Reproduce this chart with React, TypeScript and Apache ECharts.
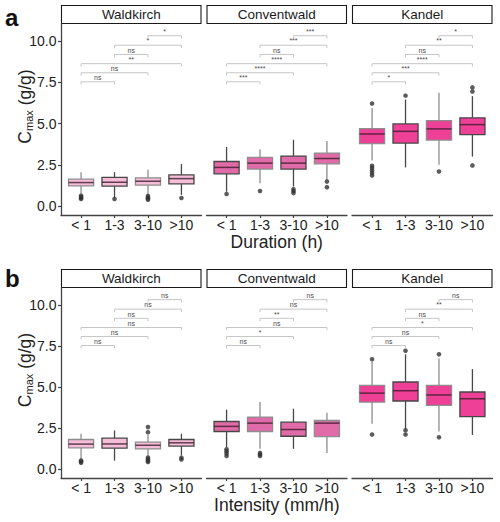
import React, { useEffect, useRef } from 'react';
import * as echarts from 'echarts';

// ---------------- DATA ----------------
const categories = ['< 1', '1-3', '3-10', '>10'];
const sites = ['Waldkirch', 'Conventwald', 'Kandel'];
const yTicks = [0, 2.5, 5, 7.5, 10];
const xTitles = ['Duration (h)', 'Intensity (mm/h)'];
const panelLetters = ['a', 'b'];

// box stats per category: [lower whisker, Q1, median, Q3, upper whisker]
const durationWaldkirch = [
  [0.72, 1.22, 1.42, 1.63, 2.05],
  [0.5, 1.2, 1.44, 1.73, 2.05],
  [0.67, 1.26, 1.5, 1.71, 2.2],
  [0.67, 1.34, 1.66, 1.89, 2.54],
];
const durationConventwald = [
  [0.87, 1.95, 2.34, 2.7, 3.58],
  [1.38, 2.24, 2.6, 2.95, 3.45],
  [1.18, 2.24, 2.6, 3.03, 4.02],
  [1.58, 2.56, 2.88, 3.21, 3.94],
];
const durationKandel = [
  [2.76, 3.78, 4.37, 4.7, 5.95],
  [2.34, 3.82, 4.53, 4.98, 6.46],
  [2.5, 4.0, 4.68, 5.18, 6.87],
  [3.0, 4.33, 4.94, 5.35, 6.67],
];
const intensityWaldkirch = [
  [0.61, 1.29, 1.52, 1.8, 2.15],
  [0.51, 1.27, 1.53, 1.88, 2.35],
  [0.82, 1.23, 1.45, 1.64, 2.08],
  [0.82, 1.4, 1.6, 1.8, 2.15],
];
const intensityConventwald = [
  [1.33, 2.29, 2.6, 2.9, 3.62],
  [1.23, 2.29, 2.8, 3.17, 4.09],
  [1.23, 2.0, 2.41, 2.86, 3.68],
  [0.98, 1.98, 2.8, 2.96, 3.44],
];
const intensityKandel = [
  [2.76, 4.08, 4.63, 5.1, 6.54],
  [2.45, 4.15, 4.78, 5.31, 7.0],
  [2.29, 3.88, 4.52, 5.1, 6.75],
  [2.08, 3.2, 4.29, 4.7, 6.1],
];

// outliers: [category index, value]
const durationWaldkirchOut = [[0, 0.62], [0, 0.55], [0, 0.48], [0, 0.42], [1, 0.42], [2, 0.6], [2, 0.52], [2, 0.45], [2, 0.38], [3, 0.48]];
const durationConventwaldOut = [[0, 0.73], [1, 0.91], [2, 1.02], [2, 0.9], [2, 0.78], [3, 1.48], [3, 1.14]];
const durationKandelOut = [[0, 6.22], [0, 2.44], [0, 2.3], [0, 2.15], [0, 2.0], [0, 1.85], [1, 6.7], [2, 2.09], [3, 7.2], [3, 6.95], [3, 2.46]];
const intensityWaldkirchOut = [[0, 0.52], [0, 0.45], [0, 0.38], [2, 2.56], [2, 2.25], [2, 0.7], [2, 0.6], [2, 0.5], [2, 0.43], [3, 0.68], [3, 0.58]];
const intensityConventwaldOut = [[0, 1.2], [0, 1.08], [0, 0.95], [0, 0.8], [1, 0.98], [1, 0.88], [1, 0.8]];
const intensityKandelOut = [[0, 6.7], [0, 2.1], [1, 7.22], [1, 2.37], [1, 2.1], [2, 7.0], [2, 1.94]];

// significance comparisons
const sigPairs = [[0, 1], [0, 2], [0, 3], [1, 2], [1, 3], [2, 3]];
const sigHeights = [7.54, 8.09, 8.64, 9.2, 9.76, 10.34];
const durationWaldkirchSig = ['ns', 'ns', '**', 'ns', '*', '*'];
const durationConventwaldSig = ['***', '****', '****', 'ns', '***', '***'];
const durationKandelSig = ['*', '***', '****', 'ns', '**', '*'];
const intensityWaldkirchSig = ['ns', 'ns', 'ns', 'ns', 'ns', 'ns'];
const intensityConventwaldSig = ['ns', '*', 'ns', '**', 'ns', 'ns'];
const intensityKandelSig = ['ns', 'ns', '*', 'ns', '**', 'ns'];

const rowsBoxes = [
  [durationWaldkirch, durationConventwald, durationKandel],
  [intensityWaldkirch, intensityConventwald, intensityKandel],
];
const rowsOut = [
  [durationWaldkirchOut, durationConventwaldOut, durationKandelOut],
  [intensityWaldkirchOut, intensityConventwaldOut, intensityKandelOut],
];
const rowsSig = [
  [durationWaldkirchSig, durationConventwaldSig, durationKandelSig],
  [intensityWaldkirchSig, intensityConventwaldSig, intensityKandelSig],
];

// ---------------- STYLE / LAYOUT ----------------
const FONT = 'Liberation Sans, Arial, Helvetica, sans-serif';
const siteFill = ['#f5bdd8', '#e16ba8', '#ee4096'];
const whiskerTone = [[0, 1, 0, 1], [1, 0, 1, 0], [0, 1, 0, 1]];
const Y_MIN = -0.55;
const Y_MAX = 11.05;
const PANEL_LEFT = [61, 206.5, 352];
const PANEL_W = 140.5;
const ROW_TOP = [24, 288];
const ROW_H = [191, 190];
const STRIP_H = 19;
const AXIS_COLOR = '#444444';
const TEXT_COLOR = '#222222';

function boxRender(fill: string, tones: number[]) {
  return (params: any, api: any) => {
    const x = api.value(0);
    const lw = api.coord([x, api.value(1)]);
    const q1 = api.coord([x, api.value(2)]);
    const md = api.coord([x, api.value(3)]);
    const q3 = api.coord([x, api.value(4)]);
    const uw = api.coord([x, api.value(5)]);
    const band = api.size([1, 0])[0];
    const w = band * 0.75;
    const cx = lw[0];
    const edge = tones[params.dataIndex] ? '#474747' : '#8d8d8d';
    return {
      type: 'group',
      children: [
        { type: 'line', shape: { x1: cx, y1: uw[1], x2: cx, y2: q3[1] }, style: { stroke: edge, lineWidth: 1.3 } },
        { type: 'line', shape: { x1: cx, y1: q1[1], x2: cx, y2: lw[1] }, style: { stroke: edge, lineWidth: 1.3 } },
        {
          type: 'rect',
          shape: { x: cx - w / 2, y: q3[1], width: w, height: q1[1] - q3[1] },
          style: { fill, stroke: edge, lineWidth: 1.3 },
        },
        {
          type: 'line',
          shape: { x1: cx - w / 2, y1: md[1], x2: cx + w / 2, y2: md[1] },
          style: { stroke: 'rgba(55,25,40,0.78)', lineWidth: 1.5 },
        },
      ],
    };
  };
}

function bracketRender(labels: string[]) {
  return (params: any, api: any) => {
    const i = api.value(0);
    const y = api.value(1);
    const j = api.value(2);
    const p1 = api.coord([i, y]);
    const p2 = api.coord([j, y]);
    const tick = api.size([0, 0.17])[1];
    return {
      type: 'group',
      children: [
        {
          type: 'polyline',
          shape: { points: [[p1[0], p1[1] + tick], [p1[0], p1[1]], [p2[0], p2[1]], [p2[0], p2[1] + tick]] },
          style: { stroke: '#c6c6c6', fill: null, lineWidth: 1 },
        },
        {
          type: 'text',
          x: (p1[0] + p2[0]) / 2,
          y: p1[1] - 0.8,
          style: {
            text: labels[params.dataIndex],
            fontSize: 7,
            fontFamily: FONT,
            fill: '#4a4a4a',
            align: 'center',
            verticalAlign: 'bottom',
          },
        },
      ],
    };
  };
}

function buildOption() {
  const grid: any[] = [];
  const xAxis: any[] = [];
  const yAxis: any[] = [];
  const series: any[] = [];
  const graphic: any[] = [];

  for (let r = 0; r < 2; r++) {
    for (let p = 0; p < 3; p++) {
      const L = PANEL_LEFT[p];
      const s = PANEL_W / 4.2;
      const fIdx = (r * 3 + p) * 2;
      const dIdx = fIdx + 1;
      // frame grid
      grid.push({ left: L, top: ROW_TOP[r], width: PANEL_W, height: ROW_H[r], containLabel: false });
      xAxis.push({
        gridIndex: fIdx, type: 'value', min: 0, max: 1,
        axisLine: { show: true, onZero: false, lineStyle: { color: AXIS_COLOR, width: 1.3 } },
        axisTick: { show: false }, axisLabel: { show: false }, splitLine: { show: false },
      });
      yAxis.push({
        gridIndex: fIdx, type: 'value', min: Y_MIN, max: Y_MAX,
        show: p === 0,
        axisLine: { show: p === 0, onZero: false, lineStyle: { color: AXIS_COLOR, width: 1.3 } },
        axisTick: { show: p === 0, length: 3, customValues: yTicks, lineStyle: { color: AXIS_COLOR, width: 1.2 } },
        axisLabel: {
          show: p === 0, customValues: yTicks, margin: 4.5, fontSize: 14, fontFamily: FONT, color: TEXT_COLOR,
          lineHeight: 14,
          formatter: (v: number) => v.toFixed(1),
        },
        splitLine: { show: false },
      });
      // data grid
      grid.push({ left: L + 0.1 * s, top: ROW_TOP[r], width: PANEL_W - 0.2 * s, height: ROW_H[r], containLabel: false });
      xAxis.push({
        gridIndex: dIdx, type: 'category', data: categories, boundaryGap: true,
        axisLine: { show: false, onZero: false },
        axisTick: { show: true, alignWithLabel: true, length: 3, lineStyle: { color: AXIS_COLOR, width: 1.2 } },
        axisLabel: { show: true, interval: 0, margin: 3, fontSize: 14, lineHeight: 14, fontFamily: FONT, color: TEXT_COLOR },
        splitLine: { show: false },
      });
      yAxis.push({ gridIndex: dIdx, type: 'value', min: Y_MIN, max: Y_MAX, show: false, splitLine: { show: false } });

      const boxes = rowsBoxes[r][p];
      series.push({
        type: 'custom',
        xAxisIndex: dIdx, yAxisIndex: dIdx,
        renderItem: boxRender(siteFill[p], whiskerTone[p]),
        encode: { x: 0, y: [1, 2, 3, 4, 5] },
        data: boxes.map((b, i) => [i, ...b]),
        z: 2,
      });
      series.push({
        type: 'scatter',
        xAxisIndex: dIdx, yAxisIndex: dIdx,
        symbol: 'circle', symbolSize: 4.6,
        itemStyle: { color: '#333333' },
        data: rowsOut[r][p],
        z: 3,
      });
      series.push({
        type: 'custom',
        xAxisIndex: dIdx, yAxisIndex: dIdx,
        renderItem: bracketRender(rowsSig[r][p]),
        encode: { x: [0, 2], y: 1 },
        data: sigPairs.map((pr, k) => [pr[0], sigHeights[k], pr[1]]),
        z: 4,
      });

      // strip
      graphic.push({
        type: 'rect',
        shape: { x: L + 0.5, y: ROW_TOP[r] - STRIP_H + 0.5, width: PANEL_W - 1, height: STRIP_H - 1 },
        style: { fill: '#ffffff', stroke: '#1a1a1a', lineWidth: 1.1 },
      });
      graphic.push({
        type: 'text',
        x: L + PANEL_W / 2,
        y: ROW_TOP[r] - STRIP_H / 2,
        style: {
          text: sites[p], fontSize: 13.5, fontFamily: FONT, fill: '#1a1a1a',
          align: 'center', verticalAlign: 'middle',
        },
      });
    }
    // x axis title
    graphic.push({
      type: 'text',
      x: (PANEL_LEFT[0] + PANEL_LEFT[2] + PANEL_W) / 2,
      y: ROW_TOP[r] + ROW_H[r] + 27,
      style: {
        text: xTitles[r], fontSize: 17.5, lineHeight: 18, fontFamily: FONT, fill: TEXT_COLOR,
        align: 'center', verticalAlign: 'middle',
      },
    });
    // y axis title (rotated)
    graphic.push({
      type: 'text',
      x: 21,
      y: ROW_TOP[r] + ROW_H[r] / 2 - 13,
      rotation: Math.PI / 2,
      style: {
        text: '{c|C}{s|max}{t| (g/g)}',
        align: 'center', verticalAlign: 'middle',
        rich: {
          c: { fontSize: 17.5, fontFamily: FONT, fill: TEXT_COLOR, lineHeight: 26, verticalAlign: 'bottom' },
          s: { fontSize: 11, fontFamily: FONT, fill: TEXT_COLOR, lineHeight: 11, verticalAlign: 'bottom' },
          t: { fontSize: 17.5, fontFamily: FONT, fill: TEXT_COLOR, lineHeight: 26, verticalAlign: 'bottom' },
        },
      },
    });
    // panel letter
    graphic.push({
      type: 'text',
      x: 5,
      y: r === 0 ? 17.5 : 278.5,
      style: {
        text: panelLetters[r], fontSize: 24, fontWeight: 'bold', fontFamily: FONT, fill: '#111',
        align: 'left', verticalAlign: 'middle',
      },
    });
  }

  return {
    animation: false,
    backgroundColor: '#ffffff',
    grid, xAxis, yAxis, series, graphic,
  };
}

export default function App() {
  const ref = useRef<HTMLDivElement>(null);
  useEffect(() => {
    if (!ref.current) return;
    const chart = echarts.init(ref.current, undefined, { renderer: 'svg' });
    chart.setOption(buildOption() as any);
    return () => chart.dispose();
  }, []);
  return (
    <div
      ref={ref}
      style={{ position: 'fixed', left: 0, top: 0, width: 500, height: 522, background: '#fff' }}
    />
  );
}
